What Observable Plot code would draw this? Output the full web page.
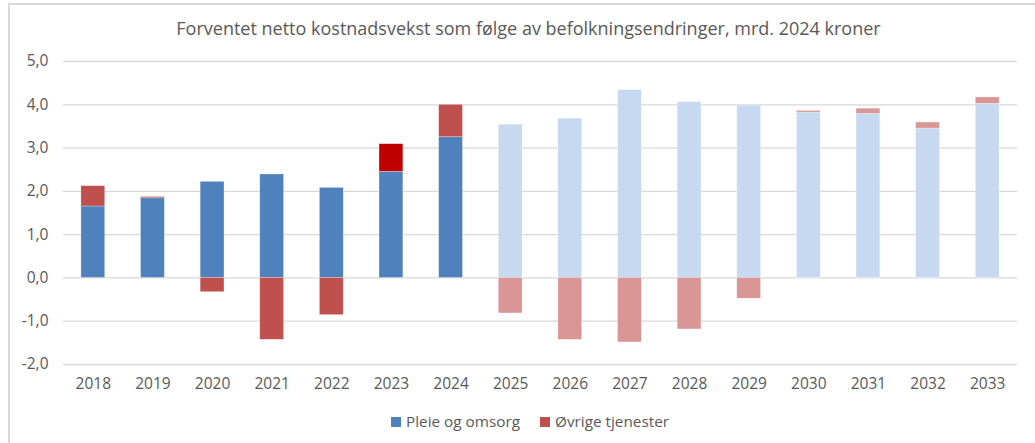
<!DOCTYPE html>
<html>
<head>
<meta charset="utf-8">
<script src="https://cdn.jsdelivr.net/npm/d3@7"></script>
<script src="https://cdn.jsdelivr.net/npm/@observablehq/plot@0.6"></script>
<style>
  html, body { margin: 0; padding: 0; background: #fff; }
  body { width: 1035px; height: 443px; overflow: hidden; position: relative; font-family: "Open Sans", "Noto Sans", sans-serif; }
  #frame { position: absolute; left: 8px; top: 3px; width: 1040px; height: 460px; border-left: 2px solid #D9D9D9; border-top: 2px solid #D9D9D9; box-sizing: border-box; }
  #title { position: absolute; left: 0; width: 1057px; top: 16px; text-align: center; font-size: 18px; color: #595959; white-space: nowrap; }
  #chart { position: absolute; left: 0; top: 45px; }
  #legend { position: absolute; left: 0; width: 1060px; top: 411px; text-align: center; font-size: 15.3px; color: #595959; white-space: nowrap; }
  #legend span.item { margin: 0 10px; }
  #legend span.sw { display: inline-block; width: 10px; height: 10px; margin-right: 5px; vertical-align: 0px; }
</style>
</head>
<body>
<div id="frame"></div>
<div id="title">Forventet netto kostnadsvekst som følge av befolkningsendringer, mrd. 2024 kroner</div>
<div id="chart"></div>
<div id="legend"></div>
<script>
const years = ["2018","2019","2020","2021","2022","2023","2024","2025","2026","2027","2028","2029","2030","2031","2032","2033"];
const pleie = [1.65, 1.84, 2.22, 2.39, 2.08, 2.45, 3.25, 3.54, 3.68, 4.34, 4.06, 3.98, 3.82, 3.79, 3.45, 4.02];
const ovrige = [0.47, 0.03, -0.33, -1.43, -0.86, 0.64, 0.75, -0.82, -1.43, -1.49, -1.19, -0.48, 0.04, 0.12, 0.14, 0.15];
const seriesNames = ["Pleie og omsorg", "Øvrige tjenester"];
const yTicks = [-2, -1, 0, 1, 2, 3, 4, 5];
const lastActualYear = "2024";
const highlightYear = "2023";

const colors = {
  pleie: "#4F81BD", pleieProj: "#C6D9F0",
  ovrige: "#C0504D", ovrigeProj: "#D99694", ovrigeHighlight: "#C00000"
};

const rows = [];
years.forEach((y, i) => {
  rows.push({year: y, series: seriesNames[0], value: pleie[i]});
  rows.push({year: y, series: seriesNames[1], value: ovrige[i]});
});
function fillOf(d) {
  const proj = +d.year > +lastActualYear;
  if (d.series === seriesNames[0]) return proj ? colors.pleieProj : colors.pleie;
  if (d.year === highlightYear) return colors.ovrigeHighlight;
  return proj ? colors.ovrigeProj : colors.ovrige;
}
const fmt = v => v.toFixed(1).replace(".", ",");

const chart = Plot.plot({
  width: 1035,
  height: 355,
  marginLeft: 63,
  marginRight: 18,
  marginTop: 16,
  marginBottom: 36,
  style: {fontFamily: "'Open Sans', 'Noto Sans', sans-serif", fontSize: "15.5px", color: "#595959", background: "transparent"},
  x: {domain: years, label: null, paddingInner: 0.6, paddingOuter: 0.3, round: false},
  y: {domain: [-2, 5], label: null},
  marks: [
    Plot.gridY(yTicks, {stroke: "#D9D9D9", strokeOpacity: 1, strokeWidth: 1.3}),
    Plot.barY(rows, {x: "year", y: "value", fill: fillOf, order: null, stroke: "#fff", strokeOpacity: 0.5, strokeWidth: 0.6}),
    Plot.axisX({tickSize: 0, tickPadding: 13, fill: "#595959", fontSize: "15.5px"}),
    Plot.axisY({ticks: yTicks, tickFormat: fmt, tickSize: 0, tickPadding: 15, fill: "#595959", fontSize: "15.5px"})
  ]
});
document.getElementById("chart").appendChild(chart);

const legend = document.getElementById("legend");
[[seriesNames[0], colors.pleie], [seriesNames[1], colors.ovrige]].forEach(([name, c]) => {
  const item = document.createElement("span");
  item.className = "item";
  const sw = document.createElement("span");
  sw.className = "sw";
  sw.style.background = c;
  item.appendChild(sw);
  item.appendChild(document.createTextNode(name));
  legend.appendChild(item);
});
</script>
</body>
</html>
